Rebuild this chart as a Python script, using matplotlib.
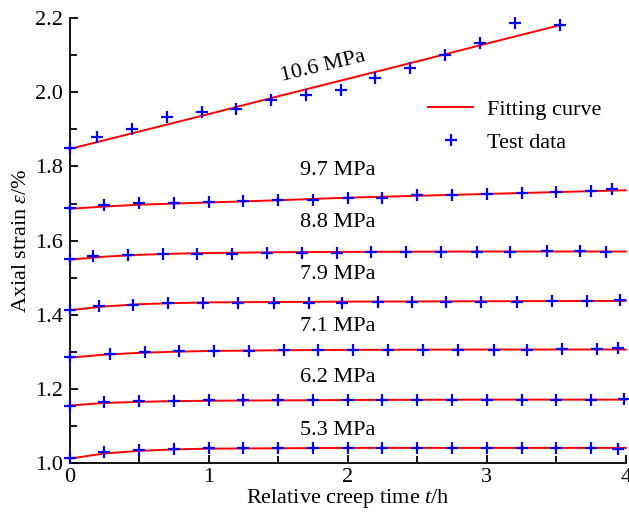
"""
Creep curves of axial strain under stepped stress: test data and fitting curves.
"""

import matplotlib
matplotlib.use("Agg")
import matplotlib.pyplot as plt
from matplotlib.ticker import MultipleLocator

# Stress levels (labels)
stress_labels = ["10.6 MPa", "9.7 MPa", "8.8 MPa", "7.9 MPa", "7.1 MPa", "6.2 MPa", "5.3 MPa"]

# Test data: relative creep time (h) and axial strain (%)
t_106 = [0, 0.2, 0.45, 0.7, 0.95, 1.2, 1.45, 1.7, 1.95, 2.2, 2.45, 2.7, 2.95, 3.2, 3.53]
e_106 = [1.850, 1.880, 1.900, 1.934, 1.946, 1.956, 1.979, 1.992, 2.006, 2.037, 2.064,
         2.100, 2.133, 2.186, 2.181]

t_97 = [0, 0.25, 0.5, 0.75, 1.0, 1.25, 1.5, 1.75, 2.0, 2.25, 2.5, 2.75, 3.0, 3.25,
        3.5, 3.75, 3.9]
e_97 = [1.687, 1.697, 1.701, 1.702, 1.704, 1.706, 1.709, 1.711, 1.714, 1.716, 1.722,
        1.724, 1.727, 1.729, 1.732, 1.734, 1.739]

t_88 = [0, 0.17, 0.42, 0.67, 0.92, 1.17, 1.42, 1.67, 1.92, 2.17, 2.42, 2.67, 2.93,
        3.17, 3.43, 3.67, 3.86]
e_88 = [1.552, 1.558, 1.561, 1.563, 1.565, 1.565, 1.566, 1.567, 1.568, 1.569, 1.570,
        1.570, 1.570, 1.570, 1.571, 1.572, 1.570]

t_79 = [0, 0.21, 0.46, 0.71, 0.96, 1.21, 1.47, 1.72, 1.96, 2.22, 2.46, 2.71, 2.96,
        3.22, 3.47, 3.72, 3.96]
e_79 = [1.413, 1.423, 1.428, 1.431, 1.431, 1.432, 1.432, 1.433, 1.433, 1.435, 1.435,
        1.435, 1.435, 1.435, 1.437, 1.439, 1.441]

t_71 = [0, 0.29, 0.54, 0.79, 1.04, 1.29, 1.54, 1.79, 2.04, 2.29, 2.54, 2.79, 3.05,
        3.29, 3.54, 3.79, 3.94]
e_71 = [1.287, 1.296, 1.299, 1.302, 1.303, 1.303, 1.305, 1.305, 1.305, 1.306, 1.306,
        1.306, 1.306, 1.307, 1.309, 1.309, 1.311]

t_62 = [0, 0.25, 0.5, 0.75, 1.0, 1.25, 1.5, 1.75, 2.0, 2.25, 2.5, 2.75, 3.0, 3.25,
        3.5, 3.75, 3.99]
e_62 = [1.156, 1.165, 1.168, 1.168, 1.170, 1.170, 1.170, 1.170, 1.170, 1.170, 1.170,
        1.170, 1.170, 1.172, 1.172, 1.172, 1.174]

t_53 = [0, 0.25, 0.5, 0.75, 1.0, 1.25, 1.5, 1.75, 2.0, 2.25, 2.5, 2.75, 3.0, 3.25,
        3.5, 3.75, 3.94]
e_53 = [1.014, 1.030, 1.037, 1.040, 1.041, 1.041, 1.042, 1.042, 1.042, 1.042, 1.042,
        1.042, 1.042, 1.042, 1.042, 1.042, 1.040]

# Fitting curves
tf_106 = [0, 0.5, 1.0, 1.5, 2.0, 2.5, 3.0, 3.53]
ef_106 = [1.847, 1.894, 1.941, 1.989, 2.036, 2.083, 2.131, 2.181]

tf_97 = [0, 0.25, 0.5, 1.0, 1.5, 2.0, 2.5, 3.0, 3.5, 4.0]
ef_97 = [1.686, 1.692, 1.697, 1.703, 1.709, 1.716, 1.721, 1.726, 1.731, 1.736]

tf_88 = [0, 0.25, 0.5, 0.75, 1.0, 1.5, 2.0, 3.0, 4.0]
ef_88 = [1.549, 1.557, 1.562, 1.565, 1.567, 1.569, 1.570, 1.571, 1.571]

tf_79 = [0, 0.25, 0.5, 0.75, 1.0, 1.5, 2.0, 3.0, 4.0]
ef_79 = [1.413, 1.423, 1.429, 1.432, 1.434, 1.435, 1.436, 1.437, 1.438]

tf_71 = [0, 0.25, 0.5, 0.75, 1.0, 1.5, 2.0, 3.0, 4.0]
ef_71 = [1.285, 1.293, 1.298, 1.301, 1.303, 1.305, 1.306, 1.307, 1.307]

tf_62 = [0, 0.25, 0.5, 0.75, 1.0, 1.5, 2.0, 3.0, 4.0]
ef_62 = [1.156, 1.163, 1.166, 1.168, 1.169, 1.170, 1.171, 1.172, 1.172]

tf_53 = [0, 0.25, 0.5, 0.75, 1.0, 1.5, 2.0, 3.0, 4.0]
ef_53 = [1.013, 1.027, 1.034, 1.038, 1.040, 1.041, 1.042, 1.042, 1.042]

# Label anchor positions (t, strain) for each stress level
label_t = [1.82, 1.93, 1.93, 1.93, 1.93, 1.93, 1.93]
label_e = [2.068, 1.790, 1.650, 1.510, 1.369, 1.232, 1.089]

plt.rcParams["font.family"] = ["Liberation Serif", "DejaVu Serif"]
plt.rcParams["mathtext.fontset"] = "custom"
plt.rcParams["mathtext.rm"] = "Liberation Serif"
plt.rcParams["mathtext.it"] = "Liberation Serif:italic"
plt.rcParams["font.size"] = 16

fig = plt.figure(figsize=(6.29, 5.13), dpi=100)
ax = fig.add_axes([0.1105, 0.0965, 0.8845, 0.8685])

tests = [(t_106, e_106), (t_97, e_97), (t_88, e_88), (t_79, e_79),
         (t_71, e_71), (t_62, e_62), (t_53, e_53)]
fits = [(tf_106, ef_106), (tf_97, ef_97), (tf_88, ef_88), (tf_79, ef_79),
        (tf_71, ef_71), (tf_62, ef_62), (tf_53, ef_53)]

for i, ((tf, ef), (t, e)) in enumerate(zip(fits, tests)):
    ax.plot(tf, ef, color="#ff0000", lw=1.4, zorder=2, clip_on=False,
            label="Fitting curve" if i == 0 else None)
    ax.plot(t, e, ls="none", marker="+", ms=8, mew=1.6, color="#0000ff",
            zorder=3, clip_on=False, label="Test data" if i == 0 else None)

for i, lab in enumerate(stress_labels):
    rot = 13.5 if i == 0 else 0
    ax.text(label_t[i], label_e[i], lab, ha="center", va="center",
            rotation=rot, rotation_mode="anchor", fontsize=16)

ax.set_xlim(0, 4)
ax.set_ylim(1.0, 2.2)
ax.xaxis.set_major_locator(MultipleLocator(1))
ax.xaxis.set_minor_locator(MultipleLocator(0.5))
ax.yaxis.set_major_locator(MultipleLocator(0.2))
ax.yaxis.set_minor_locator(MultipleLocator(0.1))
ax.yaxis.set_major_formatter(plt.FormatStrFormatter("%.1f"))

ax.spines["top"].set_visible(False)
ax.spines["right"].set_visible(False)
for s in ("left", "bottom"):
    ax.spines[s].set_linewidth(1.3)

ax.tick_params(which="both", direction="in", width=1.3, labelsize=16)
ax.tick_params(which="major", length=6)
ax.tick_params(which="minor", length=5)
ax.tick_params(axis="y", pad=5)
ax.tick_params(axis="x", pad=3)

ax.set_xlabel("Relative creep time $t$/h", fontsize=16, labelpad=0)
ax.set_ylabel("Axial strain $\\varepsilon$/%", fontsize=16, labelpad=3)

ax.legend(loc="center left", bbox_to_anchor=(0.624, 0.757), frameon=False,
          borderpad=0, handlelength=2.05, handletextpad=0.6, labelspacing=0.55,
          fontsize=16)

fig.savefig("out.png", dpi=100)
